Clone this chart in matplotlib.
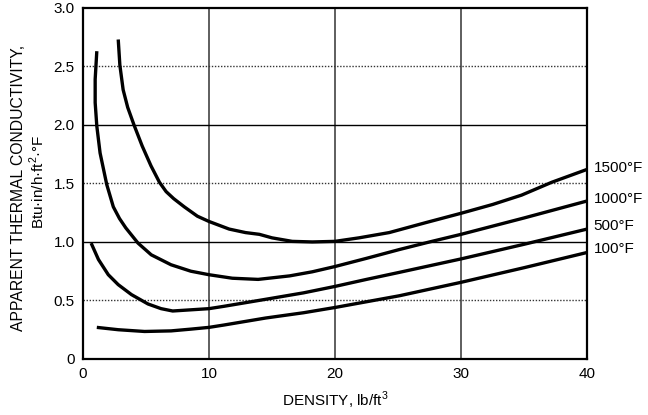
import matplotlib
matplotlib.use("Agg")
import matplotlib.pyplot as plt

plt.rcParams['font.family'] = ['Liberation Sans', 'DejaVu Sans']
plt.rcParams['mathtext.fontset'] = 'custom'
plt.rcParams['mathtext.rm'] = 'Liberation Sans'

# density lb/ft3 vs apparent conductivity
x_1500 = [2.8, 2.93, 3.19, 3.55, 4.05, 4.7, 5.4, 6.07, 6.6, 7.2, 8.04, 9.08, 10.0, 11.6, 12.9, 14.0, 15.0,
          16.6, 18.2, 20, 21.9, 24.3, 27.2, 30, 32.5, 34.8, 37.2, 40]
y_1500 = [2.73, 2.51, 2.30, 2.15, 2.0, 1.82, 1.65, 1.51, 1.43, 1.37, 1.30, 1.22, 1.175, 1.11, 1.08, 1.065, 1.035,
          1.005, 1.0, 1.005, 1.035, 1.08, 1.165, 1.245, 1.32, 1.40, 1.51, 1.62]

x_1000 = [1.1, 0.97, 0.97, 1.1, 1.36, 1.89, 2.41, 2.9, 3.4, 4.37, 5.42, 6.99, 8.56, 10, 11.85, 13.9,
          16.4, 18.2, 20, 22.5, 25.1, 27.5, 30, 35, 40]
y_1000 = [2.63, 2.39, 2.19, 1.99, 1.76, 1.49, 1.30, 1.20, 1.12, 0.99, 0.89, 0.805, 0.75, 0.72, 0.69, 0.68,
          0.71, 0.745, 0.79, 0.86, 0.935, 1.0, 1.065, 1.205, 1.35]

x_500 = [0.65, 1.23, 2.01, 2.8, 3.85, 5.16, 6.2, 7.12, 8.56, 10, 11.18, 14.5, 17.5, 20, 22.5, 25.1, 30, 35, 40]
y_500 = [0.99, 0.85, 0.72, 0.635, 0.55, 0.47, 0.43, 0.41, 0.42, 0.43, 0.45, 0.51, 0.565, 0.62, 0.68, 0.74,
         0.855, 0.98, 1.11]

x_100 = [1.1, 2.8, 4.89, 6.99, 8.56, 10, 11.18, 14.5, 17.5, 20, 25.1, 30, 35, 40]
y_100 = [0.27, 0.25, 0.235, 0.24, 0.255, 0.27, 0.29, 0.35, 0.395, 0.44, 0.54, 0.655, 0.78, 0.91]

labels = ["1500°F", "1000°F", "500°F", "100°F"]
label_y = [1.63, 1.37, 1.14, 0.94]

xticks = [0, 10, 20, 30, 40]
yticks = [0, 0.5, 1.0, 1.5, 2.0, 2.5, 3.0]
ytick_labels = ["0", "0.5", "1.0", "1.5", "2.0", "2.5", "3.0"]

fig = plt.figure(figsize=(6.48, 4.15), dpi=100)
ax = fig.add_axes([0.128, 0.135, 0.778, 0.846])

# grid: solid verticals, solid at whole numbers, dotted at halves
for xv in [10, 20, 30]:
    ax.axvline(xv, color='#333333', lw=1.1, zorder=1)
for yv in [1.0, 2.0]:
    ax.axhline(yv, color='black', lw=1.0, zorder=1)
for yv in [0.5, 1.5, 2.5]:
    ax.axhline(yv, color='#333333', lw=1.0, ls=(0, (1, 1.2)), zorder=1)

for xs, ys in [(x_1500, y_1500), (x_1000, y_1000), (x_500, y_500), (x_100, y_100)]:
    ax.plot(xs, ys, color='black', lw=2.4, solid_capstyle='butt', solid_joinstyle='round', zorder=3)

for lab, ly in zip(labels, label_y):
    ax.text(40.5, ly, lab, fontsize=11, va='center', ha='left', clip_on=False)

ax.set_xlim(0, 40)
ax.set_ylim(0, 3.0)
ax.set_xticks(xticks)
ax.set_xticklabels([str(t) for t in xticks])
ax.set_yticks(yticks)
ax.set_yticklabels(ytick_labels)
ax.tick_params(length=0, labelsize=11, pad=6)
for s in ax.spines.values():
    s.set_linewidth(1.6)

ax.set_xlabel("DENSITY, lb/ft$^3$", fontsize=11, labelpad=6)
fig.text(0.029, 0.548, "APPARENT THERMAL CONDUCTIVITY,", rotation=90, fontsize=11.3, ha='center', va='center')
fig.text(0.057, 0.561, "Btu·in/h·ft$^2$·°F", rotation=90, fontsize=11, ha='center', va='center')

fig.savefig("out.png", dpi=100)
